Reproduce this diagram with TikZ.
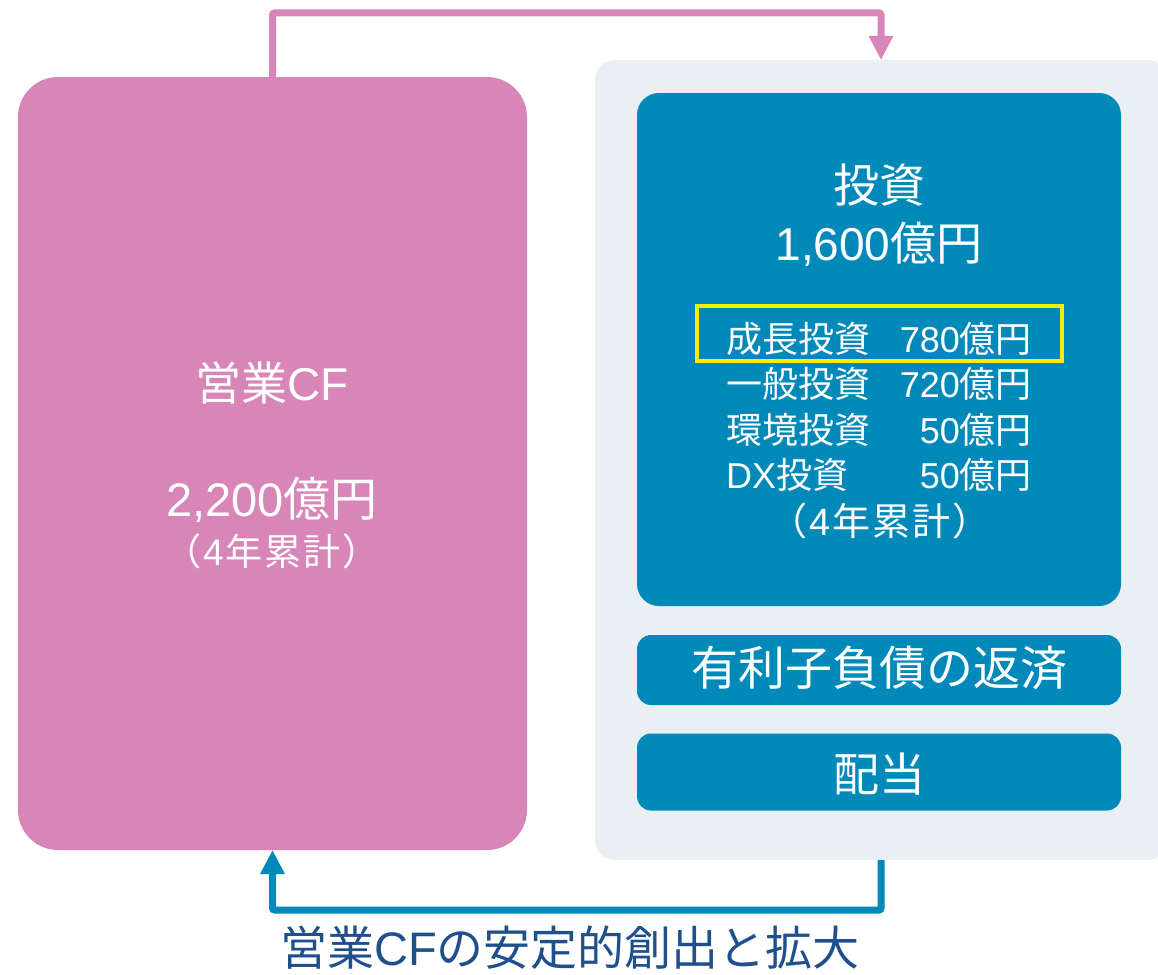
\documentclass[tikz,border=0pt]{standalone}
\usepackage{fontspec}
\setmainfont{Liberation Sans}
\newfontfamily\jp{Noto Sans CJK JP}
\usetikzlibrary{arrows.meta}
\definecolor{cfpink}{RGB}{216,134,184}
\definecolor{invblue}{RGB}{0,137,185}
\definecolor{panelgrey}{RGB}{232,240,244}
\definecolor{hlyellow}{RGB}{242,242,0}
\definecolor{navy}{RGB}{31,80,140}
\newcommand{\fsz}[1]{\fontsize{#1}{#1}\selectfont}
\newcommand{\cumul}{{\jp （}\kern2pt4\kern2pt{\jp 年\kern2pt累\kern2pt計\kern2pt）}}
\begin{document}
\begin{tikzpicture}[x=1pt,y=-1pt,
  panelbox/.style={inner sep=0pt, outer sep=0pt},
  wtext/.style={text=white, inner sep=0pt, anchor=base},
  flow/.style={line width=7pt, rounded corners=2pt, -{Triangle[width=23pt,length=24pt]}}
]
\clip (0,0) rectangle (1158,974);
\fill[white] (0,0) rectangle (1158,974);

% boxes
\node[panelbox, fill=cfpink, rounded corners=40pt, minimum width=509pt, minimum height=773pt] (cf) at (272.5,463.5) {};
\node[panelbox, fill=panelgrey, rounded corners=20pt, minimum width=572pt, minimum height=800pt] (panel) at (881,460) {};
\node[panelbox, fill=invblue, rounded corners=22pt, minimum width=484pt, minimum height=513pt] (inv) at (879,349.5) {};
\node[panelbox, fill=invblue, rounded corners=14pt, minimum width=484pt, minimum height=70pt] (debt) at (879,670) {};
\node[panelbox, fill=invblue, rounded corners=14pt, minimum width=484pt, minimum height=77pt] (div) at (879,772) {};
\node[panelbox, draw=hlyellow, line width=4pt, minimum width=365pt, minimum height=55pt] (hl) at (879.5,333.5) {};

% left box text
\node[wtext, font=\fsz{46}] (cft) at (272,400) {{\jp 営業}CF};
\node[wtext, font=\fsz{47}] (cfv) at (272,516) {2,200{\jp 億円}};
\node[wtext, font=\fsz{37}] (cfn) at (272,565) {\cumul};

% investment text
\node[wtext, font=\fsz{46}] (invt) at (879,202) {{\jp 投資}};
\node[wtext, font=\fsz{46}] (invv) at (879,260) {1,600{\jp 億円}};
\begin{scope}[every node/.style={wtext, font=\fsz{36}}]
\node[anchor=base west] (l1) at (726,352) {{\jp 成長投資}};
\node[anchor=base east] (v1) at (1032,352) {780{\jp 億円}};
\node[anchor=base west] (l2) at (726,397) {{\jp 一般投資}};
\node[anchor=base east] (v2) at (1032,397) {720{\jp 億円}};
\node[anchor=base west] (l3) at (726,443) {{\jp 環境投資}};
\node[anchor=base east] (v3) at (1032,443) {50{\jp 億円}};
\node[anchor=base west] (l4) at (726,488) {DX{\jp 投資}};
\node[anchor=base east] (v4) at (1032,488) {50{\jp 億円}};
\node[font=\fsz{38}] (invn) at (880,535) {\cumul};
\end{scope}

\node[wtext, font=\fsz{47}] (debtt) at (879,685) {{\jp 有利子負債の返済}};
\node[wtext, font=\fsz{46}] (divt) at (879,791) {{\jp 配当}};

% connectors
\coordinate (topy) at (0,13);
\coordinate (boty) at (0,910);
\draw[flow, color=cfpink] (cf.north) -- (cf.north |- topy) -| (panel.north);
\draw[flow, color=invblue] (panel.south) -- (panel.south |- boty) -| (cf.south);

\node[inner sep=0pt, anchor=base, text=navy, font=\fsz{47}] (caption) at (570,965) {{\jp 営業}CF{\jp の安定的創出と拡大}};
\end{tikzpicture}
\end{document}
